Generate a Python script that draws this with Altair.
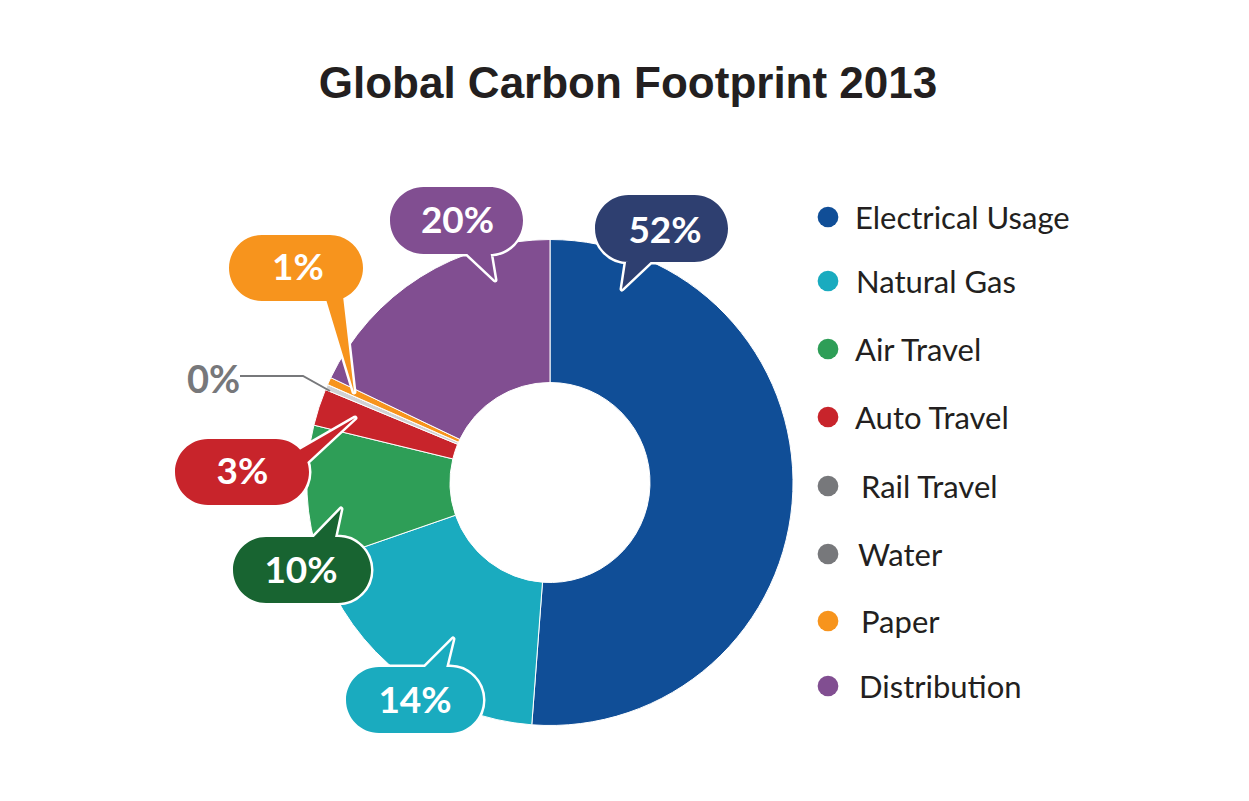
import altair as alt
import pandas as pd

# ---------------- data ----------------
title_text = "Global Carbon Footprint 2013"
categories = ["Electrical Usage", "Natural Gas", "Air Travel", "Auto Travel",
              "Rail Travel", "Water", "Paper", "Distribution"]
# slice sizes as drawn in the picture (share of the full circle, %)
shares = [51.2, 18.5, 9.1, 2.45, 0.36, 0.0, 0.5, 17.9]
# percentages printed in the callouts
pct_labels = ["52%", "14%", "10%", "3%", "0%", "0%", "1%", "20%"]
slice_colors = ["#104e97", "#1aabbf", "#2e9e57", "#c8242b",
                "#d1d2d4", "#bcbec0", "#f7941d", "#814e91"]
legend_colors = ["#104e97", "#1aabbf", "#2e9e57", "#c8242b",
                 "#77787b", "#77787b", "#f7941d", "#814e91"]
bubble_colors = ["#2e3f70", "#1aabbf", "#186431", "#c8242b",
                 "#77787b", "#77787b", "#f7941d", "#814e91"]

# ---------------- layout (page pixels) ----------------
W, H = 1233, 780
PIE_CX, PIE_CY, R_OUT, R_IN = 550, 482.5, 243, 100
NARROW = "Lato, Liberation Sans Narrow, DejaVu Sans Condensed, sans-serif"
TEXT_COLOR = "#231f20"

legend_dot_x = 828
legend_y = [217, 281, 349, 417, 486, 554, 621, 686]
legend_text_x = [855, 856, 855, 855, 861, 858, 861, 859]

# bubble: category index -> (center x, center y, w, h, base1, base2, tip, text x, text baseline)
bubble_layout = {
    0: (661.5, 228.5, 133, 67, (627, 256), (657, 256), (622, 289), 665, 243),
    1: (414.5, 700, 137, 66, (420, 672), (445, 672), (453, 639), 415, 713),
    2: (302, 570, 138, 66, (309, 542), (334, 542), (341, 509), 301, 583),
    3: (242, 472, 134, 66, (296, 452), (301, 468), (355, 418), 242.5, 484),
    6: (296, 268, 134, 66, (325, 296), (343, 296), (354, 392), 298, 280),
    7: (456.5, 220.5, 133, 67, (463, 250), (490, 250), (495, 280), 457.5, 233),
}
zero_label = (4, 213.5, 393)  # category index, text x, baseline
zero_leader = [(240, 376), (303, 376), (330, 391)]


def bubble_path(cx, cy, w, h, b1, b2, tip):
    r = h / 2.0
    a = w / 2.0 - r
    p = (f"M{-a:.2f},{-r:.2f}L{a:.2f},{-r:.2f}"
         f"A{r:.2f},{r:.2f} 0 0 1 {a:.2f},{r:.2f}"
         f"L{-a:.2f},{r:.2f}"
         f"A{r:.2f},{r:.2f} 0 0 1 {-a:.2f},{-r:.2f}Z")
    pts = [(b1[0] - cx, b1[1] - cy), (tip[0] - cx, tip[1] - cy), (b2[0] - cx, b2[1] - cy)]
    area = sum(pts[i][0] * pts[(i + 1) % 3][1] - pts[(i + 1) % 3][0] * pts[i][1] for i in range(3))
    if area < 0:
        pts = [pts[2], pts[1], pts[0]]
    p += "M{:.2f},{:.2f}L{:.2f},{:.2f}L{:.2f},{:.2f}Z".format(*pts[0], *pts[1], *pts[2])
    return p


xs = alt.Scale(domain=[8, 8 + W], nice=False, zero=False)
ys = alt.Scale(domain=[8, 8 + H], nice=False, zero=False, reverse=True)

# ---------------- tables ----------------
pie_df = pd.DataFrame({"cat": categories, "share": shares,
                       "color": slice_colors, "idx": list(range(len(categories)))})

leg_df = pd.DataFrame({"cat": categories, "color": legend_colors,
                       "dx": [legend_dot_x] * len(categories), "y": legend_y,
                       "tx": legend_text_x, "ty": [v + 12 for v in legend_y]})

b_rows = []
for i, (cx, cy, w, h, b1, b2, tip, tx, ty) in bubble_layout.items():
    b_rows.append({"cat": categories[i], "label": pct_labels[i], "color": bubble_colors[i],
                   "x": cx, "y": cy, "path": bubble_path(cx, cy, w, h, b1, b2, tip),
                   "tx": tx, "ty": ty})
bub_df = pd.DataFrame(b_rows)

zi, zx, zy = zero_label
zero_df = pd.DataFrame({"label": [pct_labels[zi]], "x": [zx], "y": [zy]})
leader_df = pd.DataFrame({"x": [p[0] for p in zero_leader], "y": [p[1] for p in zero_leader],
                          "o": list(range(len(zero_leader)))})
title_df = pd.DataFrame({"t": [title_text], "x": [628], "y": [98]})

# ---------------- layers ----------------
pie = alt.Chart(pie_df).mark_arc(
    x=PIE_CX - 8, y=PIE_CY - 8, radius=R_OUT, innerRadius=R_IN,
    stroke="white", strokeWidth=1
).encode(
    theta=alt.Theta("share:Q", stack=True),
    color=alt.Color("color:N", scale=None),
    order=alt.Order("idx:Q", sort="ascending"),
)

bub_base = alt.Chart(bub_df).encode(
    x=alt.X("x:Q", scale=xs, axis=None),
    y=alt.Y("y:Q", scale=ys, axis=None),
    shape=alt.Shape("path:N", scale=None),
)
bub_outline = bub_base.mark_point(filled=True, size=4, opacity=1, fill="white",
                                  stroke="white", strokeWidth=5, strokeJoin="round")
bub_fill = bub_base.mark_point(filled=True, size=4, opacity=1, strokeWidth=0).encode(
    fill=alt.Fill("color:N", scale=None))
bub_text = alt.Chart(bub_df).mark_text(
    font=NARROW, fontSize=37, fontWeight="bold", color="white",
    baseline="alphabetic", align="center"
).encode(x=alt.X("tx:Q", scale=xs, axis=None), y=alt.Y("ty:Q", scale=ys, axis=None),
         text="label:N")

leader = alt.Chart(leader_df).mark_line(color="#77787b", strokeWidth=2).encode(
    x=alt.X("x:Q", scale=xs, axis=None), y=alt.Y("y:Q", scale=ys, axis=None),
    order="o:Q")
zero_text = alt.Chart(zero_df).mark_text(
    font=NARROW, fontSize=38, fontWeight="bold", color="#77787b",
    baseline="alphabetic", align="center"
).encode(x=alt.X("x:Q", scale=xs, axis=None), y=alt.Y("y:Q", scale=ys, axis=None),
         text="label:N")

leg_dots = alt.Chart(leg_df).mark_circle(size=430, opacity=1).encode(
    x=alt.X("dx:Q", scale=xs, axis=None), y=alt.Y("y:Q", scale=ys, axis=None),
    color=alt.Color("color:N", scale=None))
leg_text = alt.Chart(leg_df).mark_text(
    font=NARROW, fontSize=31, color=TEXT_COLOR, baseline="alphabetic", align="left"
).encode(x=alt.X("tx:Q", scale=xs, axis=None), y=alt.Y("ty:Q", scale=ys, axis=None),
         text="cat:N")

title = alt.Chart(title_df).mark_text(
    font="Liberation Sans, Arial, sans-serif", fontSize=44, fontWeight="bold",
    color=TEXT_COLOR, baseline="alphabetic", align="center"
).encode(x=alt.X("x:Q", scale=xs, axis=None), y=alt.Y("y:Q", scale=ys, axis=None),
         text="t:N")

chart = alt.layer(
    pie, leader, zero_text, bub_outline, bub_fill, bub_text, leg_dots, leg_text, title
).properties(
    width=W, height=H, padding=0, autosize=alt.AutoSizeParams(type="none"),
    background="white"
).configure_view(stroke=None)

chart.save("out.html", embed_options={"renderer": "svg", "actions": False})
